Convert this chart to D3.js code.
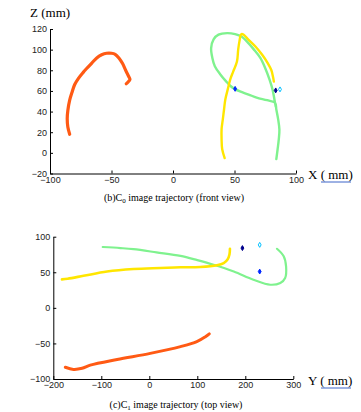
<!DOCTYPE html>
<html>
<head>
<meta charset="utf-8">
<script src="https://cdn.jsdelivr.net/npm/d3@7"></script>
<style>
  body { margin: 0; background: white; }
  .tick text { font-family: "Liberation Sans", Arial, sans-serif; font-size: 9px; fill: #222; }
  .lab { font-family: "Liberation Serif", "Times New Roman", serif; fill: #000; }
</style>
</head>
<body>
<div id="chart"></div>
<script>
// ---- front view (x, z) ----
var frontOrangeX = [-84,-85.5,-86,-85.5,-84,-82,-80,-77,-73,-70,-66,-62,-58,-54,-50,-47,-44,-41,-38.5,-36,-35,-37,-38];
var frontOrangeZ = [18,25,33,41,51,59,66,72,78,82,87,92,95,96.5,96.5,95.5,92,86.5,80,74,71,68,67];

var frontGreenX = [84,85,86,86.5,85.5,84,83,76.5,68,61.5,54.5,50,46.5,43,38.5,34,32,31,33,37,44,50.5,56,60,65.5,71,75,78.5,81,82.5,83.5];
var frontGreenZ = [-6,3,13,22.5,32.5,42,48.5,51,53.5,56.5,59.5,62,65,69.5,76,84,92,101.5,110,114.5,116,115,112.5,108,100.5,92,82,71,61,51.5,45];

var frontYellowX = [42,40,39.5,39.5,40.5,41.5,42.5,44.5,46.5,49,52,53,54,55.5,57.5,61.5,67,72.5,77,80,81.5,82];
var frontYellowZ = [-5,3.5,13,23,32.5,42,51.5,61.5,71,79,88.5,100,108,115,114.5,109.5,103,95,87,80,72.5,69];

// blue, navy, cyan
var frontDotsX = [50.5, 83.5, 87];
var frontDotsZ = [62, 60.5, 61.5];

// ---- top view (y, x) ----
var topGreenY = [-97,-60,-33,15,65,100,134,176,217,252,273,283,285,280,266];
var topGreenV = [85.5,84,82.5,78,73,67,60.5,51,39.5,32.5,35,42,58,72.5,83];

var topYellowY = [-182,-170,-137,-88,-33,23,65,106,141,155,163,167,168];
var topYellowV = [40,41,45,51,54.5,56,57,57.5,60,63,68,75,83];

var topOrangeY = [-175,-158,-140,-123,-67,2,65,99,117,125];
var topOrangeV = [-83.5,-86.5,-85,-80.5,-72.5,-64,-54.5,-47.5,-40.5,-36.5];

// blue, navy, cyan
var topDotsY = [230, 194, 230];
var topDotsV = [51, 84, 88.5];

var dotColors = ["#0028ff", "#00008c", "#00c0ff"];

var frontXTicks = [-100, -50, 0, 50, 100];
var frontZTicks = [-20, 0, 20, 40, 60, 80, 100, 120];
var topYTicks = [-200, -100, 0, 100, 200, 300];
var topVTicks = [-100, -50, 0, 50, 100];

var width = 361, height = 412;
var svg = d3.select("#chart").append("svg")
  .attr("width", width).attr("height", height);

function zip(a, b) { return a.map(function (v, i) { return [v, b[i]]; }); }

function drawPanel(g, xs, ys, xTicks, yTicks, series, dots) {
  g.append("g")
    .attr("transform", "translate(0," + ys.range()[0] + ")")
    .call(d3.axisBottom(xs).tickValues(xTicks).tickSize(-3).tickSizeOuter(0).tickPadding(3));
  g.append("g")
    .attr("transform", "translate(" + xs.range()[0] + ",0)")
    .call(d3.axisLeft(ys).tickValues(yTicks).tickSize(-3).tickSizeOuter(0).tickPadding(3));
  g.selectAll(".domain").attr("stroke", "#000");
  g.selectAll(".tick line").attr("stroke", "#000");

  var line = d3.line()
    .x(function (d) { return xs(d[0]); })
    .y(function (d) { return ys(d[1]); })
    .curve(d3.curveCatmullRom);

  series.forEach(function (s) {
    g.append("path")
      .attr("d", line(s.pts))
      .attr("fill", "none")
      .attr("stroke", s.color)
      .attr("stroke-width", s.w)
      .attr("stroke-linecap", "round")
      .attr("stroke-linejoin", "round");
  });

  // small diamond markers, cyan one hollow
  var sym = d3.symbol().type(d3.symbolDiamond).size(7);
  g.selectAll(".dot").data(dots).enter().append("path")
    .attr("d", sym)
    .attr("transform", function (d) { return "translate(" + xs(d[0]) + "," + ys(d[1]) + ")"; })
    .attr("fill", function (d, i) { return i == 2 ? "white" : dotColors[i]; })
    .attr("stroke", function (d, i) { return dotColors[i]; })
    .attr("stroke-width", 1);
}

// front view panel
var fx = d3.scaleLinear().domain([-100, 100]).range([50, 296]);
var fz = d3.scaleLinear().domain([-20, 120]).range([173.5, 29]);
var g1 = svg.append("g");
drawPanel(g1, fx, fz, frontXTicks, frontZTicks, [
  { pts: zip(frontOrangeX, frontOrangeZ), color: "#ff5a14", w: 3.2 },
  { pts: zip(frontGreenX, frontGreenZ), color: "#7ff28e", w: 2.4 },
  { pts: zip(frontYellowX, frontYellowZ), color: "#ffe600", w: 2.4 }
], zip(frontDotsX, frontDotsZ));

// top view panel
var ty = d3.scaleLinear().domain([-200, 300]).range([53.3, 293.3]);
var tv = d3.scaleLinear().domain([-100, 100]).range([379, 236.7]);
var g2 = svg.append("g");
drawPanel(g2, ty, tv, topYTicks, topVTicks, [
  { pts: zip(topGreenY, topGreenV), color: "#7ff28e", w: 2.2 },
  { pts: zip(topYellowY, topYellowV), color: "#ffe600", w: 2.6 },
  { pts: zip(topOrangeY, topOrangeV), color: "#ff5a14", w: 3 }
], zip(topDotsY, topDotsV));

// labels
svg.append("text").attr("class", "lab").attr("x", 30).attr("y", 17)
  .attr("font-size", 13).text("Z (mm)");

function axisLabel(letter, x, y) {
  var t = svg.append("text").attr("class", "lab").attr("x", x).attr("y", y).attr("font-size", 13);
  t.append("tspan").text(letter + " ");
  t.append("tspan").text("( mm)");
  svg.append("line")
    .attr("x1", x + 13).attr("x2", x + 43)
    .attr("y1", y + 3).attr("y2", y + 3)
    .attr("stroke", "#3c64c8").attr("stroke-width", 1);
}
axisLabel("X", 308, 179);
axisLabel("Y", 308, 385);

function caption(pre, sub, post, x, y) {
  var t = svg.append("text").attr("class", "lab").attr("x", x).attr("y", y)
    .attr("font-size", 10).attr("text-anchor", "middle");
  t.append("tspan").text(pre);
  t.append("tspan").attr("font-size", 7).attr("dy", 2).text(sub);
  t.append("tspan").attr("dy", -2).text(post);
}
caption("(b)C", "0", " image trajectory (front view)", 174, 201);
caption("(c)C", "1", " image trajectory (top view)", 176, 408);
</script>
</body>
</html>
